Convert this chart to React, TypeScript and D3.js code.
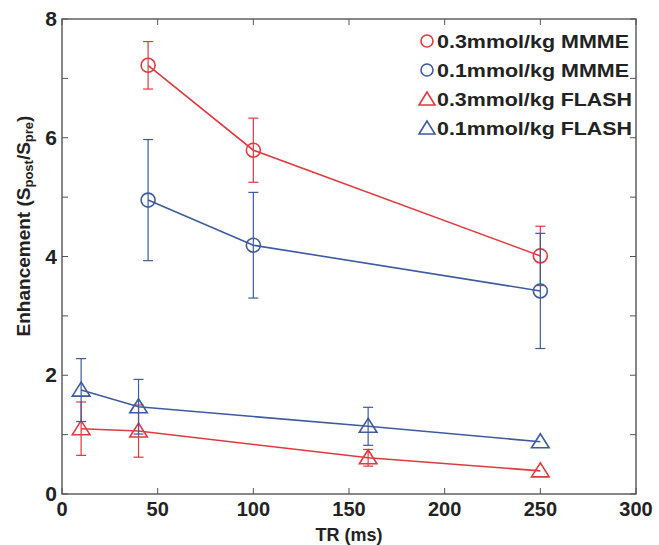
import React from "react";
import * as d3 from "d3";

const W = 659, H = 545;
const M = { left: 62, right: 23, top: 19, bottom: 51 };

const xTicks = [0, 50, 100, 150, 200, 250, 300];
const yTicks = [0, 2, 4, 6, 8];
const yMinor = [1, 3, 5, 7];

const mmmeTR = [45, 100, 250];
const flashTR = [10, 40, 160, 250];

const mmme03 = [7.22, 5.79, 4.01];
const mmme03Err = [0.4, 0.54, 0.5];
const mmme01 = [4.95, 4.19, 3.42];
const mmme01Err = [1.02, 0.89, 0.97];
const flash03 = [1.1, 1.06, 0.61, 0.39];
const flash03Err = [0.45, 0.44, 0.14, 0];
const flash01 = [1.75, 1.47, 1.14, 0.88];
const flash01Err = [0.53, 0.46, 0.32, 0];

const RED = "#e0393e";
const BLUE = "#3d5b9e";

const series = [
  { name: "0.3mmol/kg MMME", x: mmmeTR, y: mmme03, e: mmme03Err, color: RED, shape: "circle" },
  { name: "0.1mmol/kg MMME", x: mmmeTR, y: mmme01, e: mmme01Err, color: BLUE, shape: "circle" },
  { name: "0.3mmol/kg FLASH", x: flashTR, y: flash03, e: flash03Err, color: RED, shape: "triangle" },
  { name: "0.1mmol/kg FLASH", x: flashTR, y: flash01, e: flash01Err, color: BLUE, shape: "triangle" },
];

function Marker({ shape, cx, cy, color }: any) {
  if (shape === "circle") {
    return <circle cx={cx} cy={cy} r={7} fill="none" stroke={color} strokeWidth={1.6} />;
  }
  const s = 8;
  const pts = `${cx},${cy - s} ${cx - s * 1.1},${cy + s * 0.75} ${cx + s * 1.1},${cy + s * 0.75}`;
  return <polygon points={pts} fill="none" stroke={color} strokeWidth={1.6} />;
}

export default function App() {
  const x = d3.scaleLinear().domain([0, 300]).range([M.left, W - M.right]);
  const y = d3.scaleLinear().domain([0, 8]).range([H - M.bottom, M.top]);
  const line = d3.line<[number, number]>().x((d) => x(d[0])).y((d) => y(d[1]));
  const font = "'Liberation Sans', Arial, Helvetica, sans-serif";
  const axisColor = "#555";
  const x0 = x(0), x1 = x(300), y0 = y(0), y1 = y(8);
  const tickLen = 6;

  return (
    <svg width={W} height={H} style={{ position: "absolute", left: 0, top: 0 }} fontFamily={font}>
      <rect width={W} height={H} fill="#fff" />
      {series.map((s, i) => {
        const pts = s.x.map((xv, j) => [xv, s.y[j]] as [number, number]);
        return (
          <g key={i}>
            <path d={line(pts) || ""} fill="none" stroke={s.color} strokeWidth={1.6} />
            {pts.map((p, j) =>
              s.e[j] > 0 ? (
                <g key={j} stroke={s.color} strokeWidth={1.2}>
                  <line x1={x(p[0])} x2={x(p[0])} y1={y(p[1] - s.e[j])} y2={y(p[1] + s.e[j])} />
                  <line x1={x(p[0]) - 5} x2={x(p[0]) + 5} y1={y(p[1] - s.e[j])} y2={y(p[1] - s.e[j])} />
                  <line x1={x(p[0]) - 5} x2={x(p[0]) + 5} y1={y(p[1] + s.e[j])} y2={y(p[1] + s.e[j])} />
                </g>
              ) : null
            )}
            {pts.map((p, j) => (
              <Marker key={"m" + j} shape={s.shape} cx={x(p[0])} cy={y(p[1])} color={s.color} />
            ))}
          </g>
        );
      })}
      <rect x={x0} y={y1} width={x1 - x0} height={y0 - y1} fill="none" stroke={axisColor} strokeWidth={1.4} />
      {xTicks.map((t) => (
        <g key={"xt" + t}>
          <line x1={x(t)} x2={x(t)} y1={y0} y2={y0 - tickLen} stroke={axisColor} strokeWidth={1} />
          <line x1={x(t)} x2={x(t)} y1={y1} y2={y1 + tickLen} stroke={axisColor} strokeWidth={1} />
          <text x={x(t)} y={y0 + 22} textAnchor="middle" fontSize={20} fontWeight="bold" fill="#222">
            {t}
          </text>
        </g>
      ))}
      {[...yTicks, ...yMinor].map((t) => (
        <g key={"yt" + t}>
          <line x1={x0} x2={x0 + tickLen} y1={y(t)} y2={y(t)} stroke={axisColor} strokeWidth={1} />
          <line x1={x1} x2={x1 - tickLen} y1={y(t)} y2={y(t)} stroke={axisColor} strokeWidth={1} />
        </g>
      ))}
      {yTicks.map((t) => (
        <text key={"yl" + t} x={x0 - 5} y={y(t) + 7} textAnchor="end" fontSize={21} fontWeight="bold" fill="#222">
          {t}
        </text>
      ))}
      <text x={(x0 + x1) / 2} y={H - 4} textAnchor="middle" fontSize={18} fontWeight="bold" fill="#222">
        TR (ms)
      </text>
      <text
        transform={`translate(30,${226}) rotate(-90)`}
        textAnchor="middle"
        fontSize={19}
        fontWeight="bold"
        fill="#222"
      >
        Enhancement (S
        <tspan fontSize={13} dy={3}>post</tspan>
        <tspan dy={-3}>/S</tspan>
        <tspan fontSize={13} dy={3}>pre</tspan>
        <tspan dy={-3}>)</tspan>
      </text>
      {series.map((s, i) => {
        const ly = 41 + i * 29;
        return (
          <g key={"lg" + i}>
            {s.shape === "circle" ? (
              <circle cx={427} cy={ly} r={6} fill="none" stroke={s.color} strokeWidth={1.6} />
            ) : (
              <polygon
                points={`427,${ly - 7} ${419},${ly + 6} ${435},${ly + 6}`}
                fill="none"
                stroke={s.color}
                strokeWidth={1.6}
              />
            )}
            <text
              x={437}
              y={ly + 7}
              fontSize={19}
              fontWeight="bold"
              fill="#222"
              textLength={i < 2 ? 192 : 195}
              lengthAdjust="spacingAndGlyphs"
            >
              {s.name}
            </text>
          </g>
        );
      })}
    </svg>
  );
}
